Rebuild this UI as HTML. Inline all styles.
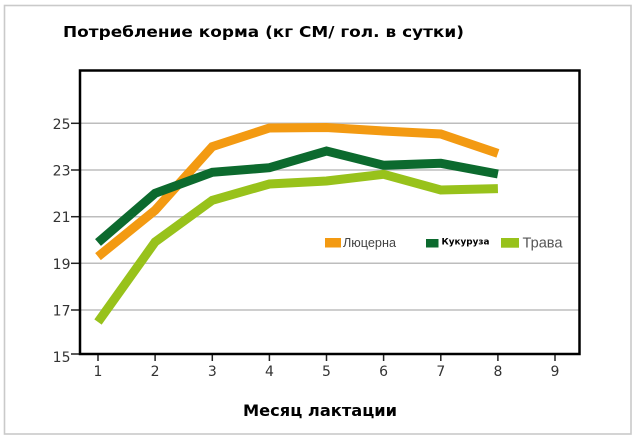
<!DOCTYPE html>
<html><head><meta charset="utf-8"><style>
html,body{margin:0;padding:0;background:#fff;}
svg{display:block;}
</style></head><body>
<svg width="639" height="441" viewBox="0 0 639 441" xmlns="http://www.w3.org/2000/svg">
<rect x="0" y="0" width="639" height="441" fill="#fff"/>
<rect x="4.5" y="5.5" width="626.5" height="428.5" fill="none" stroke="#cacaca" stroke-width="1.6"/>
<text x="63" y="37" font-family="DejaVu Sans, sans-serif" font-weight="bold" font-size="15.5" fill="#000" textLength="401" lengthAdjust="spacingAndGlyphs">Потребление корма (кг СМ/ гол. в сутки)</text>
<!-- gridlines -->
<g stroke="#bdbdbd" stroke-width="1.5">
<line x1="80" y1="123.3" x2="579" y2="123.3"/>
<line x1="80" y1="170" x2="579" y2="170"/>
<line x1="80" y1="216.7" x2="579" y2="216.7"/>
<line x1="80" y1="263.3" x2="579" y2="263.3"/>
<line x1="80" y1="310" x2="579" y2="310"/>
</g>
<!-- y ticks -->
<g stroke="#222" stroke-width="1.5">
<line x1="71" y1="123.3" x2="80" y2="123.3"/>
<line x1="71" y1="170" x2="80" y2="170"/>
<line x1="71" y1="216.7" x2="80" y2="216.7"/>
<line x1="71" y1="263.3" x2="80" y2="263.3"/>
<line x1="71" y1="310" x2="80" y2="310"/>
<line x1="71" y1="354" x2="80" y2="354"/>
</g>
<g font-family="DejaVu Sans, sans-serif" font-size="14" fill="#333" text-anchor="end">
<text x="70.5" y="129">25</text>
<text x="70.5" y="175.5">23</text>
<text x="70.5" y="222.2">21</text>
<text x="70.5" y="268.8">19</text>
<text x="70.5" y="315.5">17</text>
<text x="70.5" y="362">15</text>
</g>
<!-- x ticks -->
<g stroke="#222" stroke-width="1.5">
<line x1="98" y1="354" x2="98" y2="361"/>
<line x1="155.1" y1="354" x2="155.1" y2="361"/>
<line x1="212.3" y1="354" x2="212.3" y2="361"/>
<line x1="269.4" y1="354" x2="269.4" y2="361"/>
<line x1="326.5" y1="354" x2="326.5" y2="361"/>
<line x1="383.6" y1="354" x2="383.6" y2="361"/>
<line x1="440.8" y1="354" x2="440.8" y2="361"/>
<line x1="497.9" y1="354" x2="497.9" y2="361"/>
<line x1="555" y1="354" x2="555" y2="361"/>
</g>
<g font-family="DejaVu Sans, sans-serif" font-size="14" fill="#333" text-anchor="middle">
<text x="98" y="376">1</text>
<text x="155.1" y="376">2</text>
<text x="212.3" y="376">3</text>
<text x="269.4" y="376">4</text>
<text x="326.5" y="376">5</text>
<text x="383.6" y="376">6</text>
<text x="440.8" y="376">7</text>
<text x="497.9" y="376">8</text>
<text x="555" y="376">9</text>
</g>
<!-- series -->
<g fill="none" stroke-width="9" stroke-linejoin="miter" stroke-linecap="butt">
<polyline stroke="#f39a12" points="98,256.6 155.1,210.3 212.3,146.6 269.4,128 326.5,127.5 383.6,131 440.8,134 497.9,153.4"/>
<polyline stroke="#0c6a2e" points="98,242.5 155.1,193.3 212.3,172.3 269.4,167.7 326.5,151 383.6,165.3 440.8,163.3 497.9,174"/>
<polyline stroke="#98c21b" points="98,322 155.1,242 212.3,200.3 269.4,184 326.5,181 383.6,174.3 440.8,190 497.9,188.6"/>
</g>
<!-- plot frame -->
<rect x="80" y="70.5" width="499.5" height="283.5" fill="none" stroke="#000" stroke-width="2.5"/>
<!-- legend -->
<rect x="325" y="238" width="16" height="9.5" fill="#f39a12"/>
<text x="343" y="247" font-family="Liberation Sans, Arial, sans-serif" font-size="13" fill="#444" textLength="53" lengthAdjust="spacingAndGlyphs">Люцерна</text>
<rect x="426" y="239" width="12.5" height="8.5" fill="#0c6a2e"/>
<text x="441.5" y="244.5" font-family="DejaVu Sans, sans-serif" font-weight="bold" font-size="8.5" fill="#000" textLength="48" lengthAdjust="spacingAndGlyphs">Кукуруза</text>
<rect x="501" y="238" width="18" height="9.7" fill="#98c21b"/>
<text x="522.5" y="247.5" font-family="Liberation Sans, Arial, sans-serif" font-size="14.5" fill="#555" textLength="40" lengthAdjust="spacingAndGlyphs">Трава</text>
<!-- x axis title -->
<text x="243" y="416" font-family="DejaVu Sans, sans-serif" font-weight="bold" font-size="16" fill="#000" textLength="154" lengthAdjust="spacingAndGlyphs">Месяц лактации</text>
</svg>
</body></html>
